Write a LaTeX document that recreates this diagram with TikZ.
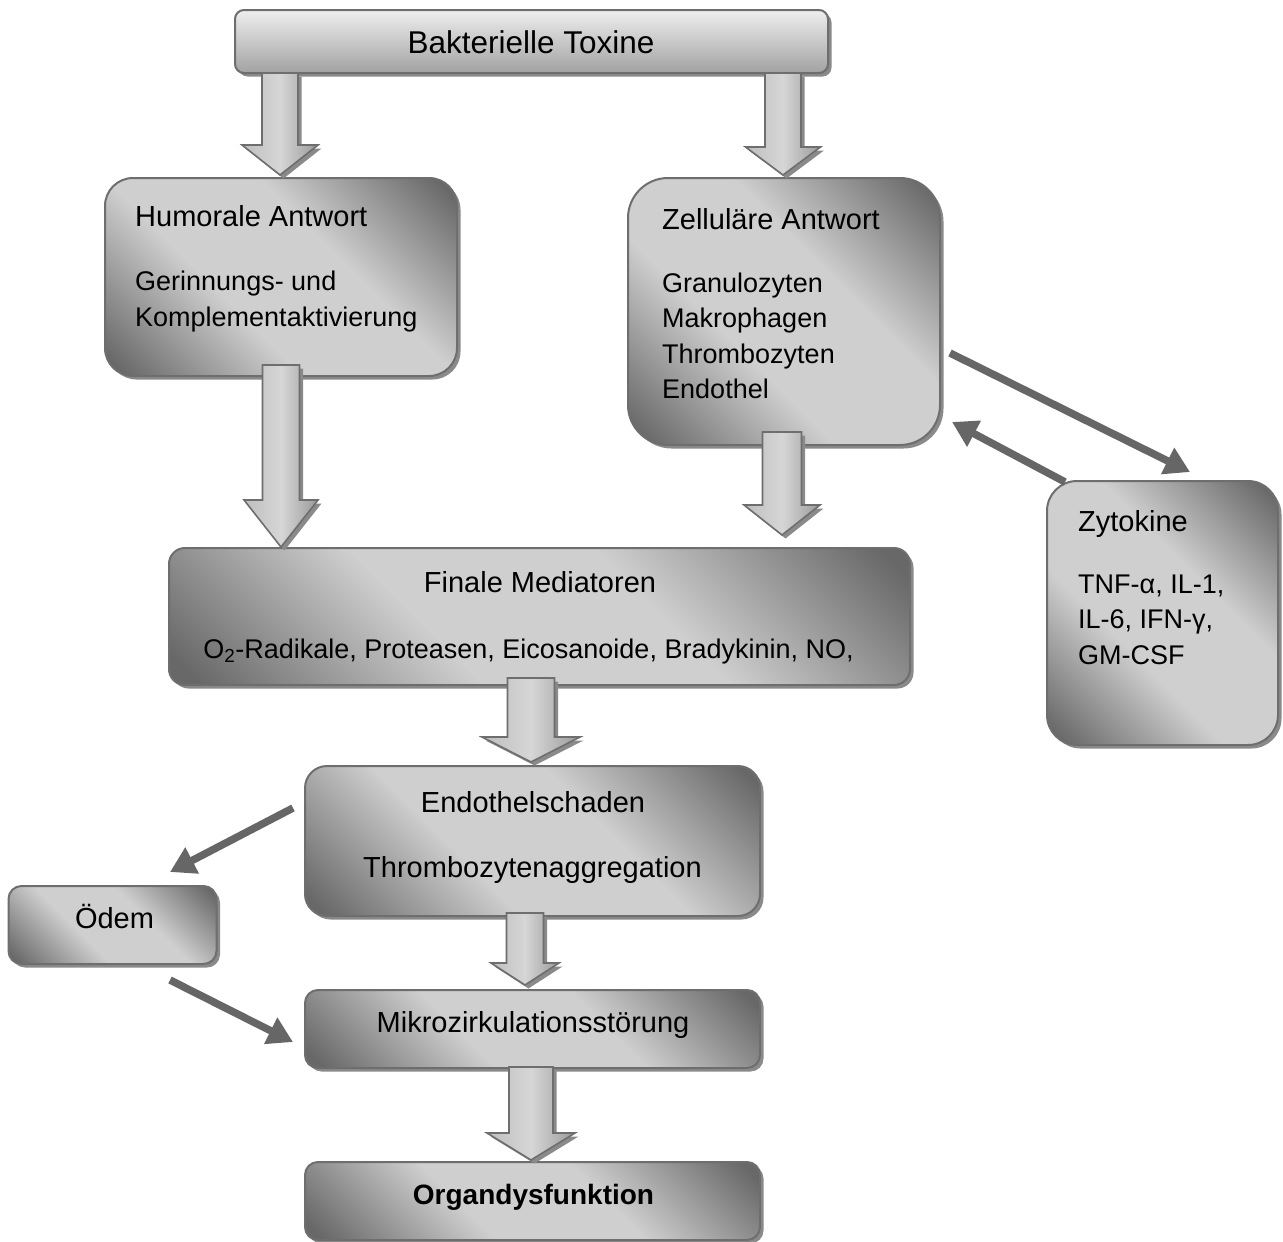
\documentclass[tikz,border=0pt]{standalone}
\usepackage{fontspec}
\setmainfont{Liberation Sans}
\usetikzlibrary{shadows,arrows.meta,calc}
\definecolor{boxdark}{HTML}{686868}
\definecolor{boxlight}{HTML}{CFCFCF}
\definecolor{boxline}{HTML}{6E6E6E}
\definecolor{shadowc}{HTML}{8A8A8A}
\definecolor{arrowc}{HTML}{666666}
\definecolor{arrlight}{HTML}{D6D6D6}
\definecolor{arrmid}{HTML}{BEBEBE}
\definecolor{arrdark}{HTML}{9A9A9A}
\definecolor{toplight}{HTML}{EEEEEE}
\definecolor{topdark}{HTML}{A2A2A2}
\pgfdeclareverticalshading{boxshade}{100bp}{color(0bp)=(boxdark); color(17bp)=(boxdark);
  color(40bp)=(boxlight); color(60bp)=(boxlight); color(83bp)=(boxdark); color(100bp)=(boxdark)}
\newcommand\blockarr[5]{%
  \path[barrow] ($(#1)+(-#3,0)$) -- ($(#2)+(-#3,-#5)$) -- ($(#2)+(-#4,-#5)$) -- (#2)
    -- ($(#2)+(#4,-#5)$) -- ($(#2)+(#3,-#5)$) -- ($(#1)+(#3,0)$) -- cycle;}
\begin{document}
\begin{tikzpicture}[x=1pt,y=-1pt,
  shadowed/.style={drop shadow={shadow xshift=3.5pt,shadow yshift=-3.5pt,fill=shadowc,opacity=1}},
  box/.style={draw=boxline,line width=2pt,inner sep=0pt,shadowed,
    shading=boxshade,shading angle=-45},
  topbox/.style={draw=boxline,line width=2pt,inner sep=0pt,shadowed,
    top color=toplight,bottom color=topdark},
  barrow/.style={draw=boxline,line width=1.6pt,shadowed,
    left color=arrmid,right color=arrdark,middle color=arrlight},
  thinarr/.style={draw=arrowc,line width=7.5pt,-{Triangle[length=25pt,width=28pt]}},
  ttl/.style={inner sep=0pt,font=\fontsize{29}{35}\selectfont},
  txt/.style={inner sep=0pt,anchor=base west,font=\fontsize{27}{35}\selectfont},
]
\fill[white] (0,0) rectangle (1283,1242);
\useasboundingbox (0,0) rectangle (1283,1242);

% boxes
\node[topbox,rounded corners=9pt,minimum width=593pt,minimum height=63pt] (top) at (531.5,41.5) {};
\node[box,rounded corners=28pt,minimum width=352pt,minimum height=198pt] (hum) at (281,277) {};
\node[box,rounded corners=40pt,minimum width=312pt,minimum height=267pt] (zell) at (784,311.5) {};
\node[box,rounded corners=30pt,minimum width=231pt,minimum height=264pt] (zyt) at (1162.5,613) {};
\node[box,rounded corners=16pt,minimum width=741pt,minimum height=137pt] (fin) at (539.5,616.5) {};
\node[box,rounded corners=22pt,minimum width=455pt,minimum height=150pt] (endo) at (532.5,841) {};
\node[box,rounded corners=13pt,minimum width=208pt,minimum height=78pt] (odem) at (112.5,925) {};
\node[box,rounded corners=13pt,minimum width=455pt,minimum height=78pt] (mikro) at (532.5,1029) {};
\node[box,rounded corners=13pt,minimum width=455pt,minimum height=78pt] (organ) at (532.5,1201) {};

% texts
\node[inner sep=0pt,font=\fontsize{31.5}{36}\selectfont,anchor=base] (topT) at (531,53) {Bakterielle Toxine};
\node[ttl,anchor=base west] (humT) at (135,226) {Humorale Antwort};
\node[txt] (humL1) at (135,290) {Gerinnungs- und};
\node[txt] (humL2) at (135,326) {Komplementaktivierung};
\node[ttl,anchor=base west] (zellT) at (662,229) {Zelluläre Antwort};
\node[txt] (zellL1) at (662,292) {Granulozyten};
\node[txt] (zellL2) at (662,327.5) {Makrophagen};
\node[txt] (zellL3) at (662,363) {Thrombozyten};
\node[txt] (zellL4) at (662,398.5) {Endothel};
\node[ttl,anchor=base west] (zytT) at (1078,531) {Zytokine};
\node[txt] (zytL1) at (1078,593) {TNF-α, IL-1,};
\node[txt] (zytL2) at (1078,628.5) {IL-6, IFN-γ,};
\node[txt] (zytL3) at (1078,664) {GM-CSF};
\node[ttl,anchor=base] (finT) at (540,592) {Finale Mediatoren};
\node[txt,anchor=base] (finL) at (528.5,658) {O\textsubscript{2}-Radikale, Proteasen, Eicosanoide, Bradykinin, NO,};
\node[ttl,anchor=base] (endoT) at (533,812) {Endothelschaden};
\node[ttl,anchor=base] (endoL) at (532.5,877) {Thrombozytenaggregation};
\node[ttl,anchor=base] (odemT) at (114.5,928) {Ödem};
\node[ttl,anchor=base] (mikroT) at (533,1032) {Mikrozirkulationsstörung};
\node[ttl,anchor=base,font=\fontsize{28}{34}\selectfont\bfseries] (organT) at (533.5,1204) {Organdysfunktion};

% block arrow end points
\coordinate (a1s) at (280,73);   \coordinate (a1e) at (280,175);
\coordinate (a2s) at (783,73);   \coordinate (a2e) at (783,175);
\coordinate (a3s) at (281,365);  \coordinate (a3e) at (281,547);
\coordinate (a4s) at (782,432);  \coordinate (a4e) at (782,535);
\coordinate (a5s) at (531,678);  \coordinate (a5e) at (531,762);
\coordinate (a6s) at (525,913);  \coordinate (a6e) at (525,985);
\coordinate (a7s) at (531,1067); \coordinate (a7e) at (531,1160);

\blockarr{a1s}{a1e}{18}{38}{30}
\blockarr{a2s}{a2e}{18}{37.5}{28}
\blockarr{a3s}{a3e}{18.5}{37}{47}
\blockarr{a4s}{a4e}{19.5}{38}{30}
\blockarr{a5s}{a5e}{23.5}{49}{25}
\blockarr{a6s}{a6e}{18.5}{34}{22}
\blockarr{a7s}{a7e}{22}{44}{27}

% thin arrows
\coordinate (t1s) at (950,353);  \coordinate (t1e) at (1190,472);
\coordinate (t2s) at (1065,482); \coordinate (t2e) at (952,422);
\coordinate (t3s) at (293,808);  \coordinate (t3e) at (170,872);
\coordinate (t4s) at (170,980);  \coordinate (t4e) at (293,1042);
\draw[thinarr] (t1s) -- (t1e);
\draw[thinarr] (t2s) -- (t2e);
\draw[thinarr] (t3s) -- (t3e);
\draw[thinarr] (t4s) -- (t4e);
\end{tikzpicture}
\end{document}
